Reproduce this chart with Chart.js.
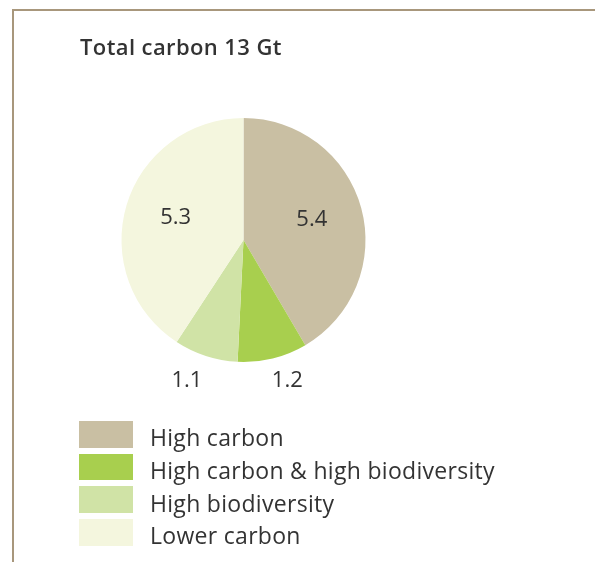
<!DOCTYPE html>
<html>
<head>
<meta charset="utf-8">
<script src="https://cdn.jsdelivr.net/npm/chart.js@4"></script>
<style>
  html, body { margin: 0; padding: 0; background: #fff; }
  #wrap { position: relative; width: 595px; height: 562px; overflow: hidden; font-family: "Open Sans", Roboto, sans-serif; color: #333; }
  #frame { position: absolute; left: 12px; top: 9px; width: 600px; height: 560px; border-left: 2px solid #a8977c; border-top: 2px solid #a8977c; box-sizing: border-box; }
  #title { position: absolute; left: 80px; top: 31px; font-size: 22px; font-weight: 600; letter-spacing: 0.4px; white-space: nowrap; }
  #chart { position: absolute; left: 0; top: 0; }
  #legend { position: absolute; left: 79px; top: 421px; }
  .item { display: flex; align-items: center; height: 26.5px; margin-bottom: 6.2px; }
  .box { width: 54px; height: 26.5px; margin-right: 17px; flex: none; }
  .lbl { font-size: 23px; letter-spacing: 0.3px; white-space: nowrap; line-height: 26px; position: relative; top: 3px; }
</style>
</head>
<body>
<div id="wrap">
  <div id="frame"></div>
  <canvas id="chart" width="595" height="562"></canvas>
  <div id="title">Total carbon 13 Gt</div>
  <div id="legend"></div>
</div>
<script>
// dados do gráfico
const categorias = ['High carbon', 'High carbon & high biodiversity', 'High biodiversity', 'Lower carbon'];
const valores = [5.4, 1.2, 1.1, 5.3];
const rotulos = ['5.4', '1.2', '1.1', '5.3'];
const cores = ['#c9bfa3', '#a8cf4e', '#d0e3a6', '#f4f6de'];

// rótulos: os grandes dentro da fatia, os pequenos embaixo do círculo
const rotulosPlugin = {
    id: 'rotulos',
    afterDatasetsDraw(chart) {
        const ctx = chart.ctx;
        const arcs = chart.getDatasetMeta(0).data;
        ctx.save();
        ctx.font = '22px "Open Sans", Roboto, sans-serif';
        ctx.fillStyle = '#333';
        ctx.textAlign = 'center';
        ctx.textBaseline = 'middle';
        arcs.forEach((arc, i) => {
            const meio = (arc.startAngle + arc.endAngle) / 2;
            const r = arc.outerRadius;
            let x, y;
            if (valores[i] > 3) {
                x = arc.x + Math.cos(meio) * r * 0.58;
                y = arc.y + Math.sin(meio) * r * 0.58 - 2;
            } else {
                x = arc.x + Math.cos(meio) * r * 1.5;
                y = arc.y + r + 19;
            }
            ctx.fillText(rotulos[i], x, y);
        });
        ctx.restore();
    }
};

const ctx = document.getElementById('chart').getContext('2d');
new Chart(ctx, {
    type: 'pie',
    data: {
        labels: categorias,
        datasets: [{
            data: valores,
            backgroundColor: cores,
            borderWidth: 0
        }]
    },
    options: {
        responsive: false,
        animation: false,
        layout: { padding: { left: 121.5, right: 229.5, top: 118, bottom: 200 } },
        plugins: {
            legend: { display: false },
            tooltip: { enabled: false }
        }
    },
    plugins: [rotulosPlugin]
});

// legenda em HTML
const legenda = document.getElementById('legend');
categorias.forEach((nome, i) => {
    const item = document.createElement('div');
    item.className = 'item';
    item.innerHTML = '<div class="box" style="background:' + cores[i] + '"></div><span class="lbl">' + nome + '</span>';
    legenda.appendChild(item);
});
</script>
</body>
</html>
